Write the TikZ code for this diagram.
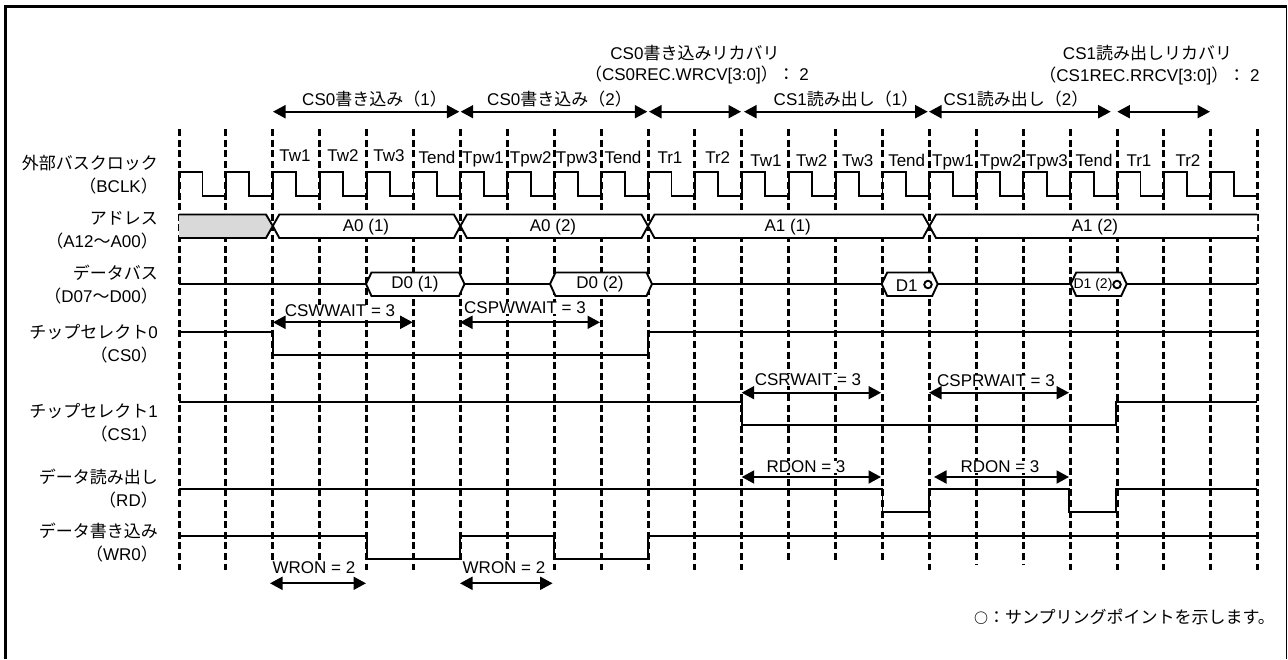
\documentclass[tikz,border=0pt]{standalone}
\usepackage{fontspec}
\setmainfont{Liberation Sans}
\newfontfamily\jpfont{Noto Sans CJK JP}
\usetikzlibrary{arrows.meta}
\definecolor{grisb}{RGB}{217,217,217}
\newcommand{\jp}[1]{{\jpfont #1}}
\tikzset{
  lbl/.style={inner sep=0pt, font=\fontsize{17}{23}\selectfont},
  medida/.style={lbl, fill=white},
  fila/.style={lbl, align=right, anchor=east},
  sig/.style={line width=1.9pt, black},
  bus/.style={line width=1.9pt, black, fill=white},
  grid/.style={line width=3pt, dash pattern=on 7pt off 3.6pt},
  dim/.style={{Triangle[length=12.5pt,width=13pt]}-{Triangle[length=12.5pt,width=13pt]}, line width=1.9pt},
  muestra/.style={circle, draw, line width=1.9pt, fill=white, minimum size=7.5pt, inner sep=0pt},
}
\begin{document}
\begin{tikzpicture}[x=1pt, y=-1pt]
  \useasboundingbox (0,0) rectangle (1288,659);
  % frame
  \draw[line width=3pt] (5.5,659) -- (5.5,6.5) -- (1287,6.5);
  \draw[line width=1.5pt] (1286.5,5) -- (1286.5,659);
  % time grid
  \foreach \i/\e in {0/570,1/570,2/563,3/563,4/570,5/570,6/563,7/563,8/570,9/570,10/570,11/570,
    12/570,13/563,14/563,15/563,16/570,17/564,18/564,19/570,20/570,21/570,22/570,23/570}
    \draw[grid] ({179+46.9*\i},129) -- ({179+46.9*\i},\e);
  % row labels
  \node[fila] (bclk) at (158,174.5) {\jp{外部バスクロック}\\\jp{（}BCLK\jp{）}};
  \node[fila] (addr) at (158,230.5) {\jp{アドレス}\\\jp{（}A12\jp{～}A00\jp{）}};
  \node[fila] (data) at (158,284.5) {\jp{データバス}\\\jp{（}D07\jp{～}D00\jp{）}};
  \node[fila] (cs0) at (158,344) {\jp{チップセレクト}0\\\jp{（}CS0\jp{）}};
  \node[fila] (cs1) at (158,422.5) {\jp{チップセレクト}1\\\jp{（}CS1\jp{）}};
  \node[fila] (rd) at (158,488.5) {\jp{データ読み出し}\\\jp{（}RD\jp{）}};
  \node[fila] (wr0) at (158,543) {\jp{データ書き込み}\\\jp{（}WR0\jp{）}};
  % clock
  \foreach \i in {0,...,22}
    \draw[sig, line join=miter] ({179+46.9*\i},196) -- ({179+46.9*\i},172) -- ({202.5+46.9*\i},172)
      -- ({202.5+46.9*\i},196) -- ({225.9+46.9*\i},196);
  \foreach \x/\y/\t [count=\n] in {295/161/Tw1,343/161/Tw2,389/161/Tw3,437/163/Tend,483/163/Tpw1,
    530.7/163/Tpw2,576.7/163/Tpw3,623/163/Tend,670/163/Tr1,717.7/163/Tr2,766/166/Tw1,811.7/166/Tw2,
    857.7/166/Tw3,906.7/166/Tend,953/166/Tpw1,1000.7/166/Tpw2,1047/166/Tpw3,1094/166/Tend,
    1139/166/Tr1,1188/166/Tr2}
    \node[lbl, anchor=base] (ck\n) at (\x,\y) {\t};
  % address bus
  \draw[sig, fill=grisb] (179,214.5) -- (266,214.5) -- (272.8,226) -- (266,238) -- (179,238);
  \foreach \xa/\xb in {272.8/460.4,460.4/648,648/929.4}
    \draw[bus] (\xa,226) -- (\xa+6.5,214.5) -- (\xb-6.5,214.5) -- (\xb,226) -- (\xb-6.5,238) -- (\xa+6.5,238) -- cycle;
  \draw[bus] (1257,214.5) -- (936,214.5) -- (929.4,226) -- (936,238) -- (1257,238);
  \node[lbl] (a01) at (366,227.5) {A0 (1)};
  \node[lbl] (a02) at (553,227.5) {A0 (2)};
  \node[lbl] (a11) at (787.7,227.5) {A1 (1)};
  \node[lbl] (a12) at (1095,227.5) {A1 (2)};
  % data bus
  \draw[sig] (179,284) -- (366,284);
  \draw[sig] (464.5,284) -- (550,284);
  \draw[sig] (652,284) -- (881.7,284);
  \draw[sig] (937.7,284) -- (1070.7,284);
  \draw[sig] (1126.7,284) -- (1257,284);
  \foreach \xa/\xb in {366/464.5,550/652,881.7/937.7,1070.7/1126.7}
    \draw[bus] (\xa,284) -- (\xa+5.5,272.5) -- (\xb-5.5,272.5) -- (\xb,284) -- (\xb-5.5,296) -- (\xa+5.5,296) -- cycle;
  \node[lbl] (d01) at (415,284.5) {D0 (1)};
  \node[lbl] (d02) at (600,284.5) {D0 (2)};
  \node[lbl] (d11) at (906.7,286) {D1};
  \node[lbl, font=\fontsize{14}{14}\selectfont] (d12) at (1093,285) {D1 (2)};
  \node[muestra] (s1) at (928,284.5) {};
  \node[muestra] (s2) at (1117,284.5) {};
  % control signals
  \draw[sig] (179,331.7) -| (272.8,355) -| (648,331.7) -- (1257,331.7);
  \draw[sig] (179,401.7) -| (741.8,425.3) -| (1116.2,401.7) -- (1257,401.7);
  \draw[sig] (179,489) -| (882.5,512.3) -| (929.4,489) -| (1069.3,512.3) -| (1116.2,489) -- (1257,489);
  \draw[sig] (179,536) -| (366.6,559) -| (460.4,536) -| (554.2,559) -| (648,536) -- (1257,536);
  % labels over the intervals
  \node[lbl] (tw1) at (374.5,99) {CS0\jp{書き込み（}1\jp{）}};
  \node[lbl] (tw2) at (559.5,99) {CS0\jp{書き込み（}2\jp{）}};
  \node[lbl] (tr1) at (846,99) {CS1\jp{読み出し（}1\jp{）}};
  \node[lbl] (tr2) at (1016,99) {CS1\jp{読み出し（}2\jp{）}};
  \node[lbl] (rcv0a) at (695,53) {CS0\jp{書き込みリカバリ}};
  \node[lbl] (rcv0b) at (697,75) {\jp{（}CS0REC.WRCV[3:0]\jp{）：} 2};
  \node[lbl] (rcv1a) at (1147.5,53) {CS1\jp{読み出しリカバリ}};
  \node[lbl] (rcv1b) at (1149.5,76) {\jp{（}CS1REC.RRCV[3:0]\jp{）：} 2};
  \node[medida] (csww) at (340,311) {CSWWAIT = 3};
  \node[medida] (cspw) at (525,308) {CSPWWAIT = 3};
  \node[medida] (csrw) at (808,380) {CSRWAIT = 3};
  \node[medida] (cspr) at (996,381) {CSPRWAIT = 3};
  \node[medida] (rdon1) at (806,467) {RDON = 3};
  \node[medida] (rdon2) at (1000,467) {RDON = 3};
  \node[medida] (wron1) at (314,568) {WRON = 2};
  \node[medida] (wron2) at (504,568) {WRON = 2};
  % intervals
  \foreach \nm/\xa/\xb/\y in {w1/273/459.3/111.7,w2/460.7/647.3/111.7,wr/649/741/111.7,r1/744/927.7/111.7,
    r2/929/1110.7/111.7,rr/1117.3/1210/111.7,cw/273/412.7/322.3,cp/460/600/322.3,
    cr/741.7/881/392.7,cq/929/1069/392.7,d1/741.7/881/477,d2/934/1069/477,
    o1/270/366/583.3,o2/460/552.6/583.3}{
    \coordinate (\nm a) at (\xa,\y);
    \coordinate (\nm b) at (\xb,\y);
    \draw[dim] (\nm a) -- (\nm b);
  }
  % note
  \node[lbl, anchor=east] (nota) at (1275,617) {\jp{{\bfseries\fontsize{14}{14}\selectfont ○}：サンプリングポイントを示します。}};
\end{tikzpicture}
\end{document}
